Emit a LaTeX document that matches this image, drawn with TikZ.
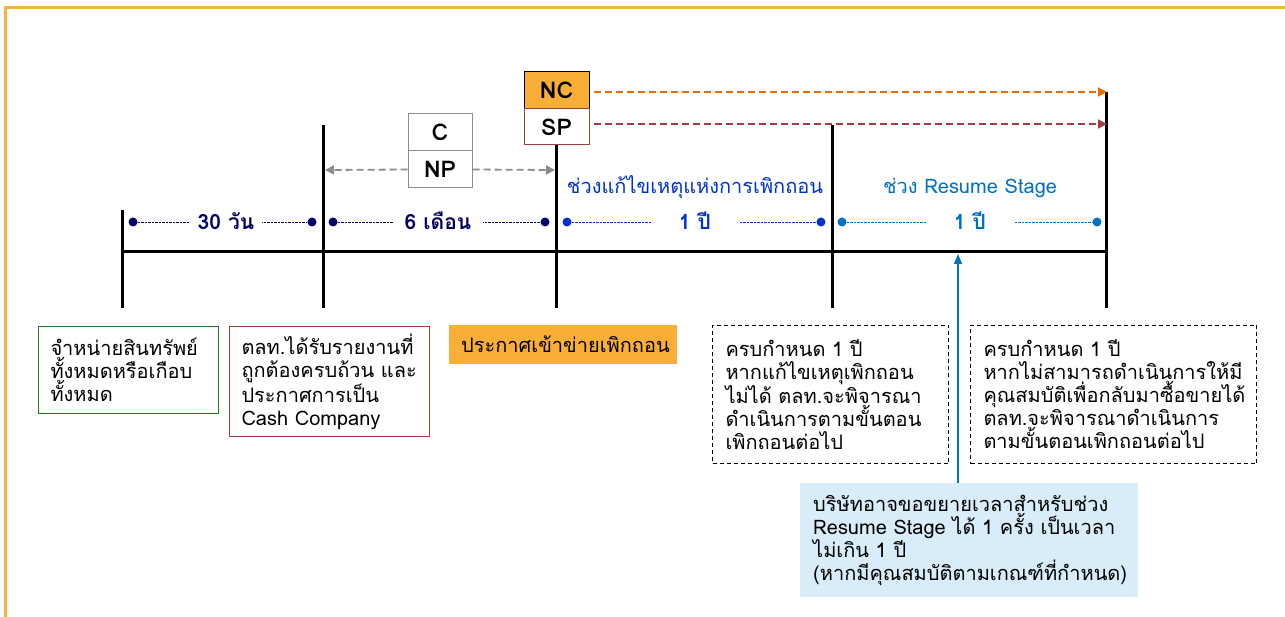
\documentclass[tikz,border=0pt]{standalone}
\usepackage{fontspec}
\setmainfont[Script=Thai]{Loma}
\usetikzlibrary{arrows.meta}
\definecolor{frameor}{HTML}{FBB040}
\definecolor{navy}{HTML}{000066}
\definecolor{mblue}{HTML}{0033CC}
\definecolor{lblue}{HTML}{0070C0}
\definecolor{ncfill}{HTML}{F9AE37}
\definecolor{ncline}{HTML}{E36C09}
\definecolor{dred}{HTML}{A0403C}
\definecolor{gbox}{HTML}{1E7D1E}
\definecolor{bfill}{HTML}{D9ECFA}
\definecolor{gline}{HTML}{8C8C8C}
\tikzset{
  tick/.style={line width=3pt},
  dotl/.style={line width=0.8pt, dash pattern=on 2.5pt off 1pt},
  edot/.style={circle, fill, inner sep=0pt, minimum size=9pt},
  ilabel/.style={fill=white, inner sep=3pt, font=\fontsize{21}{22}\selectfont\bfseries},
  head/.style={font=\fontsize{20}{22}\selectfont},
  sbox/.style={rectangle, inner sep=0pt, minimum width=64pt, font=\fontsize{23}{24}\selectfont\bfseries},
  tbox/.style={rectangle, anchor=north west, align=left, inner xsep=12pt, inner ysep=0pt, font=\fontsize{20}{23}\selectfont},
  darr/.style={dash pattern=on 7pt off 4pt, line width=1.8pt, -{Triangle[length=9pt,width=9pt]}},
}
\newcommand{\tline}[1]{\mbox{#1}}
\begin{document}
\begin{tikzpicture}[x=1pt,y=-1pt]
\useasboundingbox (0,0) rectangle (1285,617);
\draw[frameor, line width=3pt] (5.5,617) -- (5.5,7.5) -- (1285,7.5);
% ticks
\coordinate (t1) at (122,252); \coordinate (t2) at (323,252); \coordinate (t3) at (556,252);
\coordinate (t4) at (832,252); \coordinate (t5) at (1106,252);
\draw[tick] (122,210) -- (122,308);
\draw[tick] (323,125) -- (323,308);
\draw[tick] (556,145) -- (556,308);
\draw[tick] (832,125) -- (832,308);
\draw[tick] (1106,92) -- (1106,308);
\draw[tick] (t1) -- (t5);
% intervals
\node[edot, navy] (a1) at (133,222) {}; \node[edot, navy] (a2) at (312,222) {};
\draw[dotl, navy] (a1) -- (a2);
\node[ilabel, text=navy, inner xsep=8pt] (la) at (226,221) {30 วัน};
\node[edot, navy] (b1) at (333,222) {}; \node[edot, navy] (b2) at (545,222) {};
\draw[dotl, navy] (b1) -- (b2);
\node[ilabel, text=navy, inner xsep=12pt] (lb) at (438,221) {6 เดือน};
\node[edot, mblue] (c1) at (567,222) {}; \node[edot, mblue] (c2) at (821,222) {};
\draw[dotl, mblue] (c1) -- (c2);
\node[ilabel, text=mblue, inner xsep=28pt] (lc) at (695,221) {1 ปี};
\node[edot, lblue] (d1) at (842,222) {}; \node[edot, lblue] (d2) at (1097,222) {};
\draw[dotl, lblue] (d1) -- (d2);
\node[ilabel, text=lblue, inner xsep=28pt] (ld) at (970,221) {1 ปี};
\node[head, text=mblue] (h1) at (695,187) {ช่วงแก้ไขเหตุแห่งการเพิกถอน};
\node[head, text=lblue] (h2) at (970,188) {ช่วง Resume Stage};
% C / NP
\node[sbox, draw=gline, line width=1pt, minimum height=37pt] (C) at (440,132.5) {C};
\node[sbox, draw=gline, line width=1pt, minimum height=37pt] (NP) at (440,169.5) {NP};
\coordinate (npl) at (325,170); \coordinate (npr) at (555,170);
\draw[gline, line width=1.8pt, dash pattern=on 7pt off 4pt, -{Triangle[length=9pt,width=9pt]}] (NP.west) -- (npl);
\draw[gline, line width=1.8pt, dash pattern=on 7pt off 4pt, -{Triangle[length=9pt,width=9pt]}] (NP.east) -- (npr);
% NC / SP
\node[sbox, fill=ncfill, draw=black, line width=1pt, minimum width=65pt, minimum height=37pt] (NC) at (556.5,90.5) {NC};
\node[sbox, fill=white, draw=dred, line width=1pt, minimum width=65pt, minimum height=36pt] (SP) at (556.5,127) {SP};
\coordinate (ncr) at (1107,92); \coordinate (spr) at (1107,124);
\draw[darr, ncline] (NC.east |- ncr) ++(4,0) -- (ncr);
\draw[darr, dred] (SP.east |- spr) ++(4,0) -- (spr);
% bottom boxes
\node[tbox, draw=gbox, line width=1pt, minimum width=180pt, minimum height=87pt, text width=156pt] (g) at (38,326) {\tline{จำหน่ายสินทรัพย์}\\\tline{ทั้งหมดหรือเกือบ}\\\tline{ทั้งหมด}};
\node[tbox, draw=dred, line width=1pt, minimum width=200pt, minimum height=110pt, text width=176pt] (r) at (229,326) {\tline{ตลท.ได้รับรายงานที่}\\\tline{ถูกต้องครบถ้วน และ}\\\tline{ประกาศการเป็น}\\\tline{Cash Company}};
\node[tbox, fill=ncfill, minimum width=228pt, minimum height=39pt, text width=204pt, align=center] (o) at (449,325) {ประกาศเข้าข่ายเพิกถอน};
\node[tbox, draw, dash pattern=on 4pt off 3pt, line width=1pt, minimum width=236pt, minimum height=138pt, text width=210pt, inner xsep=13pt] (d1b) at (712,325) {\tline{ครบกำหนด 1 ปี}\\\tline{หากแก้ไขเหตุเพิกถอน}\\\tline{ไม่ได้ ตลท.จะพิจารณา}\\\tline{ดำเนินการตามขั้นตอน}\\\tline{เพิกถอนต่อไป}};
\node[tbox, draw, dash pattern=on 4pt off 3pt, line width=1pt, minimum width=286pt, minimum height=138pt, text width=260pt, inner xsep=13pt] (d2b) at (970,325) {\tline{ครบกำหนด 1 ปี}\\\tline{หากไม่สามารถดำเนินการให้มี}\\\tline{คุณสมบัติเพื่อกลับมาซื้อขายได้}\\\tline{ตลท.จะพิจารณาดำเนินการ}\\\tline{ตามขั้นตอนเพิกถอนต่อไป}};
\node[tbox, fill=bfill, minimum width=338pt, minimum height=114pt, text width=312pt, inner xsep=13pt] (lbx) at (800,483) {\tline{บริษัทอาจขอขยายเวลาสำหรับช่วง}\\\tline{Resume Stage ได้ 1 ครั้ง เป็นเวลา}\\\tline{ไม่เกิน 1 ปี}\\\tline{(หากมีคุณสมบัติตามเกณฑ์ที่กำหนด)}};
\coordinate (rs) at (958,254);
\draw[lblue, line width=1.2pt, -{Triangle[length=10pt,width=8pt]}] (lbx.north -| rs) -- (rs);
\end{tikzpicture}
\end{document}
